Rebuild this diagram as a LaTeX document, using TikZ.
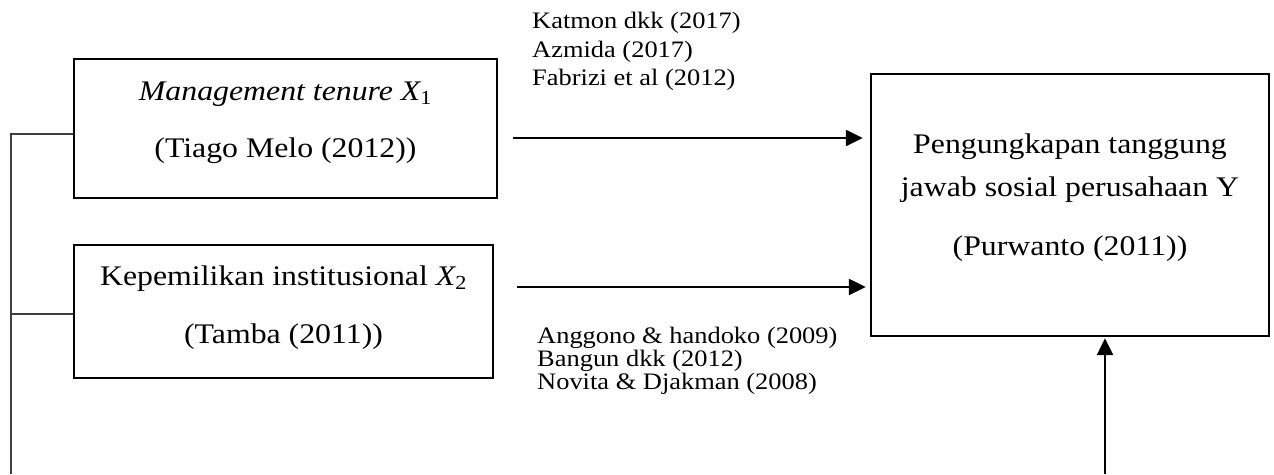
\documentclass[tikz,border=0pt]{standalone}
\usepackage{fontspec}
\setmainfont[FakeStretch=1.12]{Liberation Serif}
\usetikzlibrary{arrows.meta}
\begin{document}
\begin{tikzpicture}[x=1pt,y=-1pt,
  box/.style={draw, line width=2.4pt, inner sep=0pt},
  big/.style={font=\fontsize{28.4}{32}\selectfont, inner sep=0pt, anchor=base},
  small/.style={font=\fontsize{23.6}{27}\selectfont, inner sep=0pt, anchor=base west},
  arr/.style={line width=2.4pt, -{Triangle[length=17pt,width=16pt]}},
  bracket/.style={line width=1.5pt, draw=black!75}
]
\useasboundingbox (0,0) rectangle (1274,474);

% boxes
\node[box, minimum width=423pt, minimum height=139pt] (b1) at (285.5,128.5) {};
\node[box, minimum width=419pt, minimum height=133pt] (b2) at (283.5,311.5) {};
\node[box, minimum width=398pt, minimum height=262pt] (Y) at (1070,205) {};

% box texts
\node[big] (t1a) at (285.5,100) {{\itshape Management tenure X}\textsubscript{1}};
\node[big] (t1b) at (285.5,157) {(Tiago Melo (2012))};
\node[big] (t2a) at (283.5,285) {Kepemilikan institusional {\itshape X}\textsubscript{2}};
\node[big] (t2b) at (283.5,343) {(Tamba (2011))};
\node[big] (tya) at (1070,153) {Pengungkapan tanggung};
\node[big] (tyb) at (1070,196) {jawab sosial perusahaan Y};
\node[big] (tyc) at (1070,255) {(Purwanto (2011))};

% reference texts
\node[small] (r1) at (532,28) {Katmon dkk (2017)};
\node[small] (r2) at (532,57) {Azmida (2017)};
\node[small] (r3) at (532,85) {Fabrizi et al (2012)};
\node[small] (r4) at (537,343) {Anggono \& handoko (2009)};
\node[small] (r5) at (537,366) {Bangun dkk (2012)};
\node[small] (r6) at (537,389) {Novita \& Djakman (2008)};

% connector coordinates
\coordinate (a1) at (513,138);
\coordinate (a2) at (517,287);
\coordinate (v) at (1105,474);
\coordinate (lt) at (11,134);
\coordinate (lm) at (11,314);
\coordinate (lb) at (11,474);

% arrows
\draw[arr, shorten >=7pt] (a1) -- (a1 -| Y.west);
\draw[arr, shorten >=4pt] (a2) -- (a2 -| Y.west);
\draw[arr, shorten >=1pt] (v) -- (v |- Y.south);

% left bracket
\draw[bracket] (lt -| b1.west) -- (lt) -- (lb);
\draw[bracket] (lm -| b2.west) -- (lm);
\end{tikzpicture}
\end{document}
